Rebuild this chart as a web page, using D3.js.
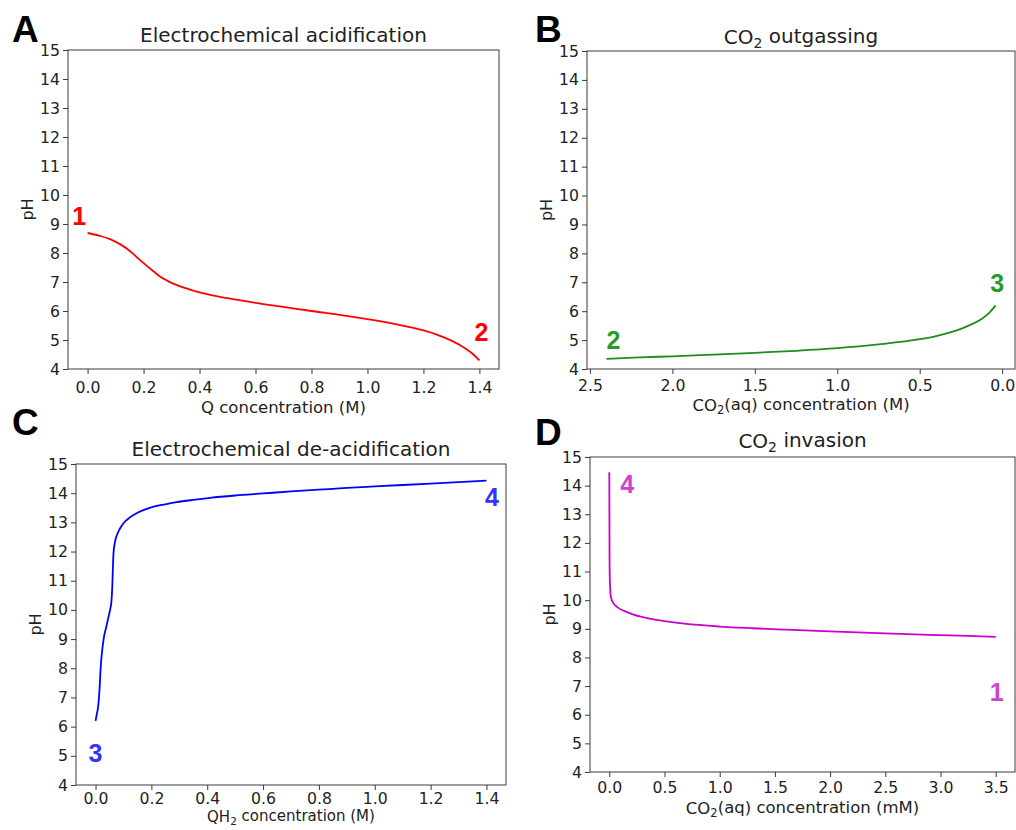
<!DOCTYPE html>
<html><head><meta charset="utf-8">
<script src="https://cdn.jsdelivr.net/npm/d3@7"></script>
<style>body{margin:0;background:#fff}svg{display:block}</style>
</head><body>
<svg id="c" width="1016" height="830"></svg>
<script>
// ---- data ----
const phTicks = [4,5,6,7,8,9,10,11,12,13,14,15];
const qTicks = [0,0.2,0.4,0.6,0.8,1.0,1.2,1.4];
const co2MTicks = [2.5,2.0,1.5,1.0,0.5,0.0];
const co2mMTicks = [0,0.5,1.0,1.5,2.0,2.5,3.0,3.5];

const acidQ  = [0,0.04,0.08,0.12,0.15,0.18,0.2,0.235,0.26,0.3,0.35,0.4,0.5,0.6,0.7,0.8,0.9,1.0,1.1,1.2,1.25,1.3,1.34,1.37,1.4];
const acidPH = [8.69,8.6,8.48,8.28,8.08,7.82,7.65,7.37,7.18,6.97,6.79,6.64,6.44,6.28,6.14,6.0,5.87,5.72,5.55,5.33,5.18,4.98,4.77,4.57,4.3];

const outCO2 = [2.4,2.2,2.0,1.75,1.5,1.25,1.0,0.75,0.5,0.4,0.32,0.25,0.18,0.12,0.08,0.04];
const outPH  = [4.35,4.4,4.44,4.5,4.56,4.63,4.72,4.85,5.03,5.14,5.26,5.39,5.56,5.75,5.93,6.2];

const deQH2 = [0,0.005,0.0095,0.013,0.015,0.017,0.019,0.0225,0.03,0.038,0.045,0.052,0.057,0.06,0.062,0.064,0.069,0.078,0.087,0.1,0.123,0.15,0.194,0.25,0.29,0.35,0.41,0.5,0.6,0.7,0.8,0.9,1.0,1.1,1.2,1.3,1.4];
const dePH  = [6.2,6.45,6.7,7.1,7.4,7.8,8.1,8.5,9.07,9.4,9.7,10.0,10.3,10.8,11.4,11.9,12.3,12.6,12.78,12.97,13.17,13.33,13.5,13.62,13.69,13.77,13.84,13.92,13.99,14.06,14.12,14.18,14.23,14.28,14.33,14.38,14.43];

const invCO2 = [0.0,0.001,0.002,0.004,0.008,0.015,0.04,0.075,0.15,0.226,0.377,0.5,0.68,1.0,1.3,1.6,2.0,2.5,3.0,3.5];
const invPH  = [14.47,13.0,11.5,10.8,10.4,10.1,9.88,9.75,9.6,9.49,9.35,9.27,9.18,9.08,9.02,8.97,8.91,8.84,8.78,8.72];

const titles = [["Electrochemical acidification"],["CO","2"," outgassing"],["Electrochemical de-acidification"],["CO","2"," invasion"]];
const xLabels = [["Q concentration (M)"],["CO","2","(aq) concentration (M)"],["QH","2"," concentration (M)"],["CO","2","(aq) concentration (mM)"]];
const letters = ["A","B","C","D"];
const stateLabels = [
  [{t:"1",x:-0.03,y:8.97},{t:"2",x:1.407,y:4.97}],
  [{t:"2",x:2.358,y:4.69},{t:"3",x:0.03,y:6.66}],
  [{t:"3",x:0.0,y:4.79},{t:"4",x:1.42,y:13.56}],
  [{t:"4",x:0.163,y:13.74},{t:"1",x:3.51,y:6.48}]
];

// ---- layout ----
const panels = [
  {l:68,t:50,r:499,b:369,xd:[-0.07,1.47],ticks:qTicks,xs:acidQ,ys:acidPH,color:"#ff0000",lab:"#ff0000",pad:7.7,labY:413,labFs:16.5,titleY:42,letter:[12,42]},
  {l:587,t:51,r:1015,b:369,xd:[2.518,-0.078],ticks:co2MTicks,xs:outCO2,ys:outPH,color:"#1e8c1e",lab:"#2a9a2a",pad:6,labY:411,labFs:16.5,titleY:44,letter:[535,42]},
  {l:76,t:464,r:506,b:785,xd:[-0.07,1.47],ticks:qTicks,xs:deQH2,ys:dePH,color:"#0000ff",lab:"#3333ff",pad:2.5,labY:822,labFs:15,titleY:456,letter:[12,435]},
  {l:590,t:457,r:1015,b:772,xd:[-0.175,3.675],ticks:co2mMTicks,xs:invCO2,ys:invPH,color:"#cc00cc",lab:"#cc44cc",pad:4.5,labY:814,labFs:16.5,titleY:448,letter:[535,445]}
];

const svg = d3.select("#c");
const FONT = "DejaVu Sans, sans-serif";

function richText(sel, parts){
  parts.forEach((p,i)=>{
    if(parts.length>1 && i===1){
      sel.append("tspan").attr("font-size","0.7em").attr("dy","0.25em").text(p);
    } else if(parts.length>1 && i===2){
      sel.append("tspan").attr("dy","-0.25em").text(p);
    } else sel.append("tspan").text(p);
  });
}

panels.forEach((p,i)=>{
  const x = d3.scaleLinear().domain(p.xd).range([p.l,p.r]);
  const y = d3.scaleLinear().domain([4,15]).range([p.b,p.t]);
  const g = svg.append("g");

  // line
  const pts = p.xs.map((v,k)=>[v,p.ys[k]]).sort((a,b)=>a[0]-b[0]);
  g.append("path").datum(pts)
    .attr("fill","none").attr("stroke",p.color).attr("stroke-width",1.8)
    .attr("stroke-linejoin","round")
    .attr("d", d3.line().x(d=>x(d[0])).y(d=>y(d[1])).curve(d3.curveMonotoneX));

  // frame
  g.append("rect").attr("x",p.l).attr("y",p.t).attr("width",p.r-p.l).attr("height",p.b-p.t)
    .attr("fill","none").attr("stroke","#3a3a3a").attr("stroke-width",1);

  // axes
  const xa = g.append("g").attr("transform",`translate(0,${p.b})`)
    .call(d3.axisBottom(x).tickValues(p.ticks).tickFormat(d3.format(".1f")).tickSize(5).tickPadding(p.pad).tickSizeOuter(0));
  const ya = g.append("g").attr("transform",`translate(${p.l},0)`)
    .call(d3.axisLeft(y).tickValues(phTicks).tickFormat(d3.format("d")).tickSize(5).tickPadding(3).tickSizeOuter(0));
  [xa,ya].forEach(a=>{
    a.select(".domain").remove();
    a.selectAll("line").attr("stroke","#3a3a3a");
    a.selectAll("text").attr("font-family",FONT).attr("font-size",15.7).attr("fill","#222");
  });

  // title
  const tt = g.append("text").attr("x",(p.l+p.r)/2).attr("y",p.titleY).attr("text-anchor","middle")
    .attr("font-family",FONT).attr("font-size",20).attr("fill","#222");
  richText(tt,titles[i]);

  // x label
  const xl = g.append("text").attr("x",(p.l+p.r)/2).attr("y",p.labY).attr("text-anchor","middle")
    .attr("font-family",FONT).attr("font-size",p.labFs).attr("fill","#222");
  richText(xl,xLabels[i]);

  // y label
  g.append("text").attr("transform",`translate(${p.l-35},${(p.t+p.b)/2}) rotate(-90)`)
    .attr("text-anchor","middle").attr("font-family",FONT).attr("font-size",16).attr("fill","#222").text("pH");

  // panel letter
  g.append("text").attr("x",p.letter[0]).attr("y",p.letter[1])
    .attr("font-family","Liberation Sans, Arial, sans-serif").attr("font-weight","bold")
    .attr("font-size",37).attr("fill","#000").text(letters[i]);

  // state labels
  stateLabels[i].forEach(s=>{
    g.append("text").attr("x",x(s.x)).attr("y",y(s.y)).attr("text-anchor","middle")
      .attr("font-family","Liberation Sans, Arial, sans-serif").attr("font-weight","bold")
      .attr("font-size",25).attr("fill",p.lab).text(s.t);
  });
});
</script>
</body></html>
